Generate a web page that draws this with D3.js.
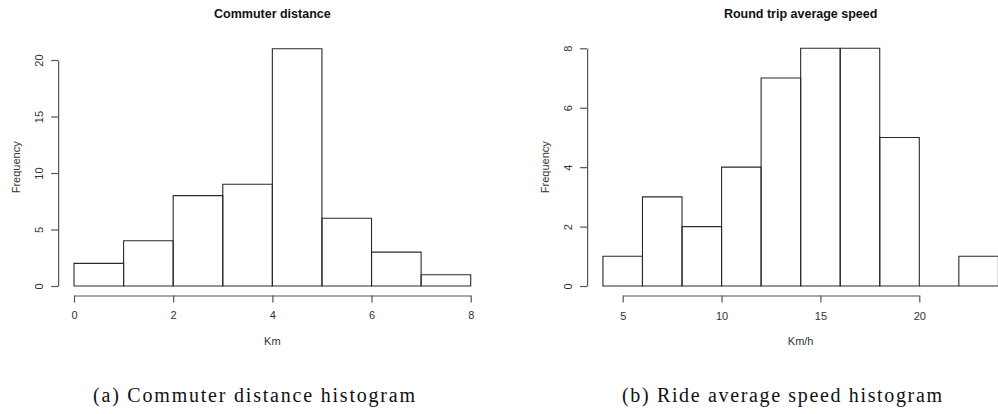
<!DOCTYPE html>
<html>
<head>
<meta charset="utf-8">
<script src="https://cdn.jsdelivr.net/npm/d3@7"></script>
<style>
  body { margin: 0; background: #fff; }
  svg { display: block; }
</style>
</head>
<body>
<div></div>
<script>
// histogram data
var distBreaks = [0, 1, 2, 3, 4, 5, 6, 7, 8];
var distCounts = [2, 4, 8, 9, 21, 6, 3, 1];
var distXTicks = [0, 2, 4, 6, 8];
var distYTicks = [0, 5, 10, 15, 20];

var speedBreaks = [4, 6, 8, 10, 12, 14, 16, 18, 20, 22, 24];
var speedCounts = [1, 3, 2, 4, 7, 8, 8, 5, 0, 1];
var speedXTicks = [5, 10, 15, 20];
var speedYTicks = [0, 2, 4, 6, 8];

var titles = ["Commuter distance", "Round trip average speed"];
var xLabels = ["Km", "Km/h"];
var captions = ["(a) Commuter distance histogram", "(b) Ride average speed histogram"];

var width = 998, height = 414;

var svg = d3.select("body").select("div").append("svg")
    .attr("width", width)
    .attr("height", height);

var font = "'Liberation Sans', Arial, sans-serif";

// pixel placement of each panel (where the tick range sits)
var panels = [
  {breaks: distBreaks, counts: distCounts, xt: distXTicks, yt: distYTicks,
   xr: [74, 470.7], yr: [286, 60], capX: 254, capW: 322},
  {breaks: speedBreaks, counts: speedCounts, xt: speedXTicks, yt: speedYTicks,
   xr: [622.7, 919.3], yr: [286, 48.3], capX: 782, capW: 320}
];

panels.forEach(function(p, i) {
    var x = d3.scaleLinear()
        .domain([p.xt[0], p.xt[p.xt.length - 1]])
        .range(p.xr);
    var y = d3.scaleLinear()
        .domain([p.yt[0], p.yt[p.yt.length - 1]])
        .range(p.yr);

    var lo = p.breaks[0], hi = p.breaks[p.breaks.length - 1];
    var ymax = d3.max(p.counts);
    // R style plot region: data range padded by 4%
    var left = x(lo - 0.04 * (hi - lo)),
        right = x(hi + 0.04 * (hi - lo)),
        bottom = y(-0.04 * ymax),
        top = y(1.04 * ymax);
    var cx = (left + right) / 2,
        cy = (top + bottom) / 2;

    var g = svg.append("g");

    // bars (paths so that empty bins still show as a line on zero)
    var bins = p.counts.map(function(c, j) {
        return {x0: p.breaks[j], x1: p.breaks[j + 1], n: c};
    });
    g.selectAll("path.bar")
        .data(bins)
        .enter().append("path")
        .attr("class", "bar")
        .attr("d", function(d) {
            return "M" + x(d.x0) + "," + y(0) + "V" + y(d.n) +
                   "H" + x(d.x1) + "V" + y(0) + "Z";
        })
        .style("fill", "none")
        .style("stroke", "#2a2a2a")
        .style("stroke-width", 1.1);

    // x axis
    var xa = g.append("g")
        .attr("transform", "translate(0," + bottom + ")")
        .call(d3.axisBottom(x).tickValues(p.xt).tickSize(7).tickSizeOuter(0));
    xa.selectAll("text")
        .attr("y", 24)
        .attr("dy", 0);

    // y axis
    var ya = g.append("g")
        .attr("transform", "translate(" + left + ",0)")
        .call(d3.axisLeft(y).tickValues(p.yt).tickSize(7).tickSizeOuter(0));
    ya.selectAll("text")
        .attr("transform", "rotate(-90)")
        .attr("x", 0)
        .attr("y", -15)
        .attr("dy", 0)
        .style("text-anchor", "middle");

    [xa, ya].forEach(function(a) {
        a.selectAll("path, line").style("stroke", "#555").style("stroke-width", 1.2);
        a.selectAll("text")
            .style("font-family", font)
            .style("font-size", "11px")
            .style("fill", "#333");
    });

    // title
    g.append("text")
        .text(titles[i])
        .attr("x", cx)
        .attr("y", 18)
        .style("text-anchor", "middle")
        .style("font-family", font)
        .style("font-size", "12.5px")
        .style("font-weight", 700)
        .style("fill", "#111");

    // axis labels
    g.append("text")
        .text(xLabels[i])
        .attr("x", cx)
        .attr("y", 345)
        .style("text-anchor", "middle")
        .style("font-family", font)
        .style("font-size", "11px")
        .style("fill", "#333");

    g.append("text")
        .text("Frequency")
        .attr("transform", "translate(" + (left - 38) + "," + cy + ") rotate(-90)")
        .style("text-anchor", "middle")
        .style("font-family", font)
        .style("font-size", "11px")
        .style("fill", "#333");

    // subfigure caption
    svg.append("text")
        .text(captions[i])
        .attr("x", p.capX - p.capW / 2)
        .attr("y", 402)
        .attr("textLength", p.capW)
        .attr("lengthAdjust", "spacing")
        .style("font-family", "'Liberation Serif', 'DejaVu Serif', serif")
        .style("font-size", "20px")
        .style("fill", "#111");
});
</script>
</body>
</html>
